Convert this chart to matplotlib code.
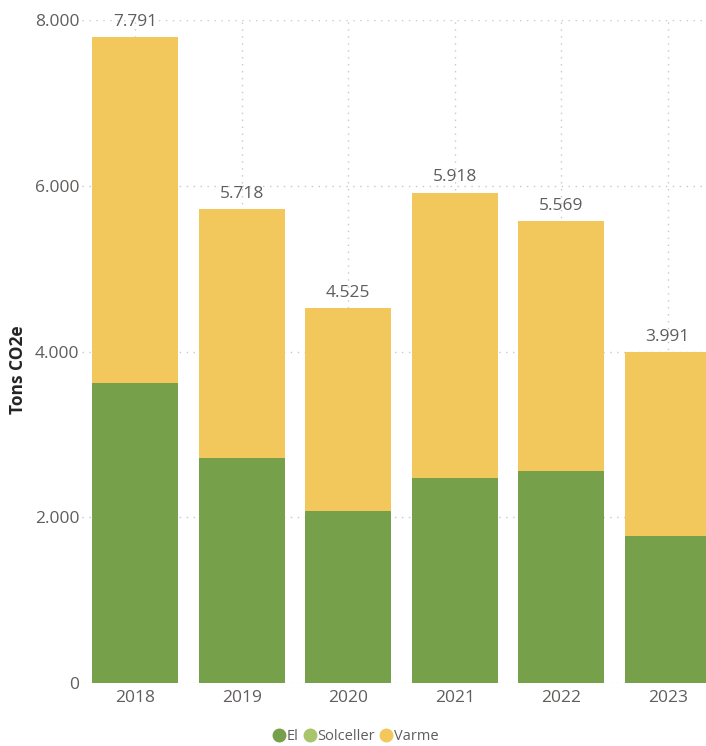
import numpy as np
import matplotlib.pyplot as plt

years = ["2018", "2019", "2020", "2021", "2022", "2023"]
totals = [7791, 5718, 4525, 5918, 5569, 3991]
el = [3618, 2714, 2074, 2472, 2557, 1773]
solceller = [0, 0, 0, 0, 0, 0]
varme = [t - e - s for t, e, s in zip(totals, el, solceller)]
total_labels = ["7.791", "5.718", "4.525", "5.918", "5.569", "3.991"]

c_el = "#76A04A"
c_sol = "#A9C46A"
c_varme = "#F2C75C"
txt = "#605E5C"

plt.rcParams['font.family'] = ['Open Sans', 'DejaVu Sans']

fig = plt.figure(figsize=(7.06, 7.46), dpi=100)
ax = fig.add_axes([82 / 706, 1 - 683 / 746, 1 - 82 / 706, (683 - 20) / 746])

x = np.arange(len(years))
w = 0.81
ax.bar(x, el, w, color=c_el, zorder=2)
ax.bar(x, solceller, w, bottom=el, color=c_sol, zorder=2)
ax.bar(x, varme, w, bottom=np.array(el) + np.array(solceller), color=c_varme, zorder=2)

for xi, t, lab in zip(x, totals, total_labels):
    ax.text(xi, t + 90, lab, ha="center", va="bottom", fontsize=12.5, color=txt, clip_on=False)

ax.set_ylim(0, 8000)
ax.set_xlim(-0.5, 5.5 - 15 / 106.6)
ax.set_yticks([0, 2000, 4000, 6000, 8000])
ax.set_yticklabels(["0", "2.000", "4.000", "6.000", "8.000"])
ax.set_xticks(x)
ax.set_xticklabels(years)
ax.tick_params(axis="both", length=0, labelsize=12.5, labelcolor=txt)
ax.tick_params(axis="y", pad=2)
ax.tick_params(axis="x", pad=5)
ax.grid(True, color="#C8C8C8", linestyle=(0, (1, 4)), linewidth=1, zorder=0)
for s in ax.spines.values():
    s.set_visible(False)

fig.text(18 / 706, 1 - 370 / 746, "Tons CO2e", rotation=90, ha="center", va="center",
         fontsize=12.5, fontweight="bold", color="#252423")

handles = [plt.Line2D([], [], marker="o", linestyle="", color=c, markersize=9)
           for c in (c_el, c_sol, c_varme)]
fig.legend(handles, ["El", "Solceller", "Varme"], loc="center", bbox_to_anchor=(355 / 706, 1 - 737 / 746),
           ncol=3, frameon=False, fontsize=10.5, handletextpad=0.0, columnspacing=0.3,
           labelcolor=txt, handlelength=1.0)

fig.savefig("out.png", dpi=100)
